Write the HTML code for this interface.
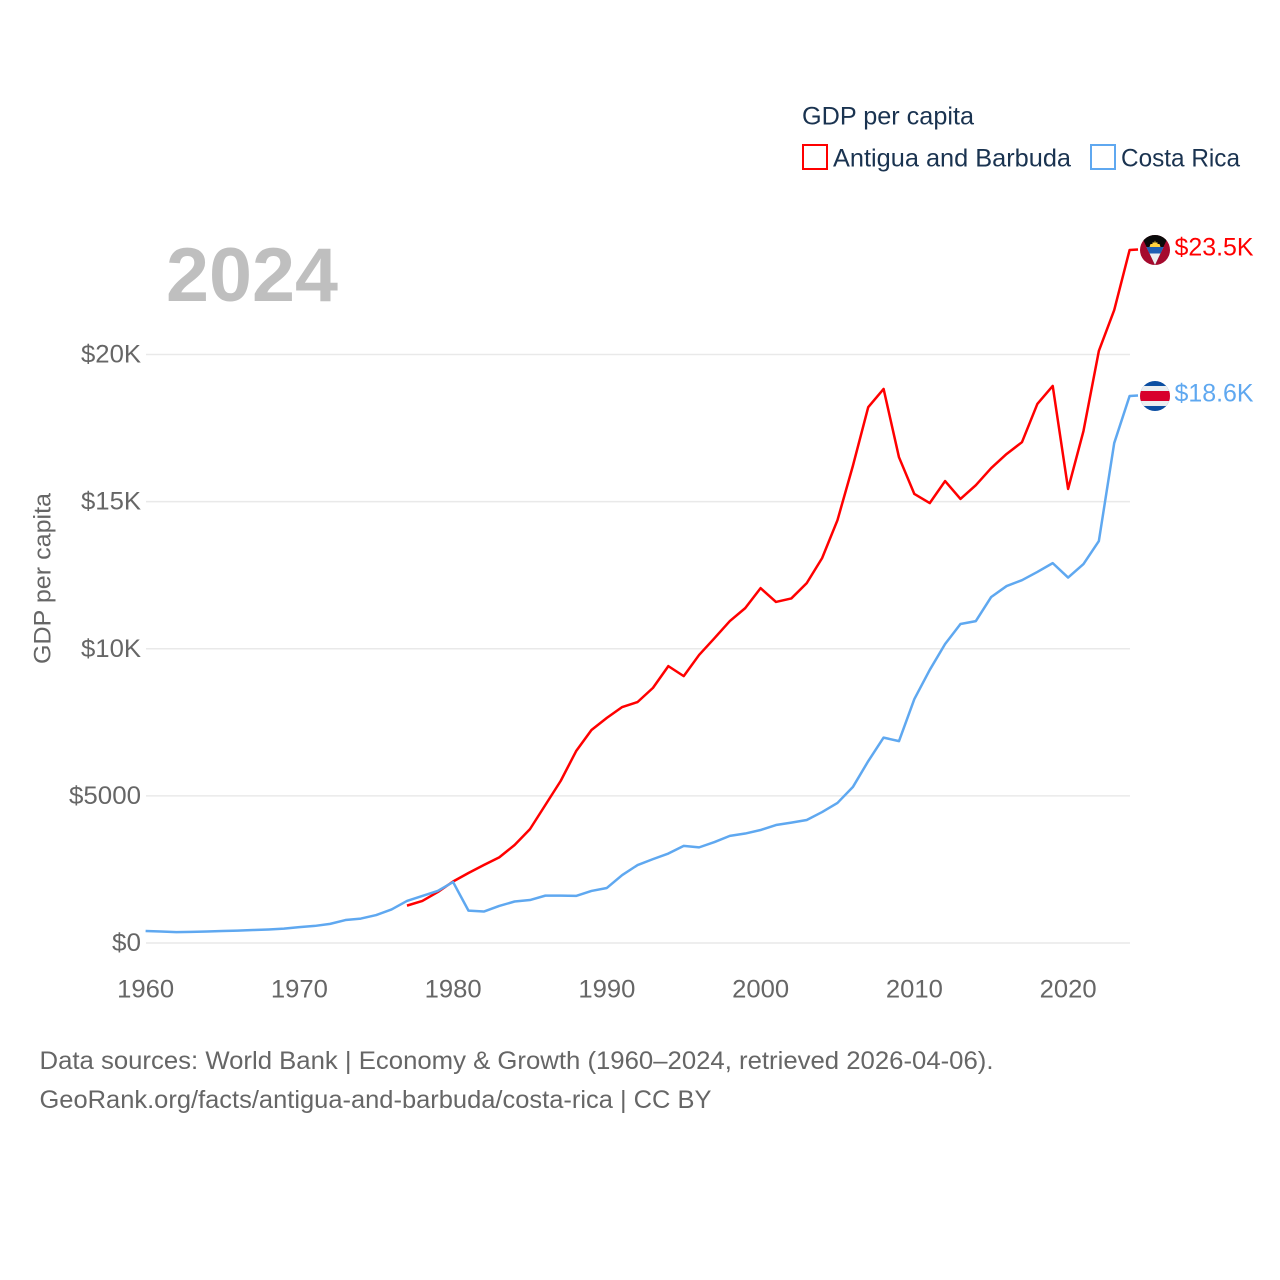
<!DOCTYPE html>
<html lang="en">
<head>
<meta charset="utf-8">
<title>GDP per capita: Antigua and Barbuda vs Costa Rica</title>
<style>
html,body{margin:0;padding:0;background:#fff;width:1280px;height:1280px;overflow:hidden}
svg{display:block}
text{font-family:"Liberation Sans",sans-serif}
</style>
</head>
<body>
<svg id="chart" xmlns="http://www.w3.org/2000/svg" width="1280" height="1280" viewBox="0 0 1280 1280">
  <defs>
    <clipPath id="flag-clip-ag"><circle cx="0" cy="0" r="15"/></clipPath>
    <clipPath id="flag-clip-cr"><circle cx="0" cy="0" r="15"/></clipPath>
  </defs>
  <rect width="1280" height="1280" fill="#fff"/>
  <g id="grid"></g>
  <g id="yticks"></g>
  <g id="xticks"></g>
  <text x="252" y="301" font-size="76" font-weight="700" fill="#bfbfbf" text-anchor="middle" textLength="172" lengthAdjust="spacingAndGlyphs">2024</text>
  <text transform="translate(50.5,578.5) rotate(-90)" font-size="24" fill="#666" text-anchor="middle" textLength="171" lengthAdjust="spacingAndGlyphs">GDP per capita</text>
  <g id="series"></g>
  <g id="end-labels"></g>

  <g>
    <text x="802" y="124.5" font-size="25" fill="#1a3350" textLength="172" lengthAdjust="spacingAndGlyphs">GDP per capita</text>
    <g>
      <rect x="803" y="145" width="24" height="24" fill="#fff" stroke="#ff0000" stroke-width="2"/>
      <text x="833" y="166.5" font-size="25" fill="#1a3350" textLength="238" lengthAdjust="spacingAndGlyphs">Antigua and Barbuda</text>
    </g>
    <g>
      <rect x="1091" y="145" width="24" height="24" fill="#fff" stroke="#5fa8f0" stroke-width="2"/>
      <text x="1121" y="166.5" font-size="25" fill="#1a3350" textLength="119" lengthAdjust="spacingAndGlyphs">Costa Rica</text>
    </g>
  </g>

  <text x="39.5" y="1069" font-size="25" fill="#666" textLength="954" lengthAdjust="spacingAndGlyphs">Data sources: World Bank | Economy &amp; Growth (1960–2024, retrieved 2026-04-06).</text>
  <text x="39.5" y="1108" font-size="25" fill="#666" textLength="672" lengthAdjust="spacingAndGlyphs">GeoRank.org/facts/antigua-and-barbuda/costa-rica | CC BY</text>
</svg>
<script>
const xTickYears = [1960, 1970, 1980, 1990, 2000, 2010, 2020];
const yTickValues = [0, 5, 10, 15, 20];
const yTickLabels = ["$0", "$5000", "$10K", "$15K", "$20K"];
const antiguaStartYear = 1977;
const antiguaValues = [1.27,1.43,1.73,2.09,2.38,2.65,2.91,3.33,3.87,4.69,5.51,6.52,7.24,7.65,8.02,8.19,8.67,9.41,9.07,9.79,10.36,10.94,11.38,12.06,11.59,11.71,12.23,13.08,14.37,16.21,18.21,18.83,16.51,15.26,14.95,15.70,15.09,15.56,16.14,16.62,17.02,18.32,18.93,15.43,17.40,20.12,21.51,23.55];
const costaRicaStartYear = 1960;
const costaRicaValues = [0.41,0.39,0.37,0.38,0.39,0.41,0.42,0.44,0.46,0.49,0.54,0.58,0.65,0.78,0.83,0.95,1.14,1.43,1.60,1.77,2.07,1.10,1.07,1.26,1.41,1.46,1.61,1.61,1.60,1.77,1.87,2.31,2.65,2.85,3.04,3.30,3.25,3.43,3.64,3.72,3.84,4.01,4.09,4.18,4.45,4.76,5.30,6.18,6.98,6.86,8.29,9.28,10.16,10.84,10.94,11.76,12.13,12.33,12.61,12.91,12.42,12.88,13.66,16.99,18.59];
const antiguaEndLabel = "$23.5K";
const costaRicaEndLabel = "$18.6K";

const NS = "http://www.w3.org/2000/svg";
const xScale = function (year) { return 145.6 + (year - 1960) * (1129.6 - 145.6) / 64; };
const yScale = function (value) { return 943 - value * 29.425; };
function make(tag, attrs, parent, content) {
  const el = document.createElementNS(NS, tag);
  Object.keys(attrs).forEach(function (k) { el.setAttribute(k, attrs[k]); });
  if (content !== undefined) { el.textContent = content; }
  parent.appendChild(el);
  return el;
}

const gridGroup = document.getElementById("grid");
const yGroup = document.getElementById("yticks");
const xGroup = document.getElementById("xticks");
const seriesGroup = document.getElementById("series");
const endGroup = document.getElementById("end-labels");

const yTickWidth = { "$0": 29, "$5000": 72, "$10K": 60, "$15K": 60, "$20K": 60 };
yTickValues.forEach(function (v, i) {
  const line = make("line", { x1: 146, x2: 1130, y1: yScale(v), y2: yScale(v), stroke: "#e9e9e9", "stroke-width": 1.5 }, gridGroup);
  
  
  const w = yTickWidth[yTickLabels[i]];
  const label = make("text", { x: 141 - w, y: yScale(v) + 8, "font-size": 25, fill: "#666", textLength: w, lengthAdjust: "spacingAndGlyphs" }, yGroup, yTickLabels[i]);
  
  
});

xTickYears.forEach(function (year) {
  const label = make("text", { x: xScale(year) - 28.5, y: 997.5, "font-size": 25, fill: "#666", textLength: 57, lengthAdjust: "spacingAndGlyphs" }, xGroup, String(year));
  
  
});

function linePoints(startYear, values) {
  const pts = values.map(function (v, i) { return xScale(startYear + i).toFixed(2) + "," + yScale(v).toFixed(2); });
  const last = values[values.length - 1];
  pts.push("1138," + (yScale(last) - 0.5).toFixed(2));
  return pts.join(" ");
}

const antiguaLine = make("polyline", { points: linePoints(antiguaStartYear, antiguaValues), fill: "none", stroke: "#ff0000", "stroke-width": 2.5, "stroke-linejoin": "round" }, seriesGroup);


const costaRicaLine = make("polyline", { points: linePoints(costaRicaStartYear, costaRicaValues), fill: "none", stroke: "#5fa8f0", "stroke-width": 2.5, "stroke-linejoin": "round" }, seriesGroup);



const antiguaY = yScale(antiguaValues[antiguaValues.length - 1]);
const costaRicaY = yScale(costaRicaValues[costaRicaValues.length - 1]);

const antiguaFlag = make("g", { transform: "translate(1155," + antiguaY + ")", "clip-path": "url(#flag-clip-ag)" }, endGroup);


make("rect", { x: -15, y: -15, width: 30, height: 30, fill: "#a50a2e" }, antiguaFlag);
make("polygon", { points: "-14,-15 14,-15 0,15", fill: "#0a0a0a" }, antiguaFlag);
make("polygon", { points: "-8.5,-3 8.5,-3 0,15", fill: "#eceff1" }, antiguaFlag);
make("polygon", { points: "-8.5,-3 8.5,-3 5.6,3.5 -5.6,3.5", fill: "#1e5fb4" }, antiguaFlag);
make("polygon", { points: "-5.5,-3 5.5,-3 4.5,-6 2.6,-6 2.2,-8 0.8,-7 0,-9.5 -0.8,-7 -2.2,-8 -2.6,-6 -4.5,-6", fill: "#ffd23f" }, antiguaFlag);

const costaRicaFlag = make("g", { transform: "translate(1155," + costaRicaY + ")", "clip-path": "url(#flag-clip-cr)" }, endGroup);


make("rect", { x: -15, y: -15, width: 30, height: 30, fill: "#0b4ea2" }, costaRicaFlag);
make("rect", { x: -15, y: -10, width: 30, height: 20, fill: "#eceff1" }, costaRicaFlag);
make("rect", { x: -15, y: -5, width: 30, height: 10, fill: "#d8002c" }, costaRicaFlag);

const antiguaEnd = make("text", { x: 1174.5, y: antiguaY + 5.5, "font-size": 25, fill: "#ff0000", textLength: 79, lengthAdjust: "spacingAndGlyphs" }, endGroup, antiguaEndLabel);


const costaRicaEnd = make("text", { x: 1174.5, y: costaRicaY + 5.5, "font-size": 25, fill: "#5fa8f0", textLength: 79, lengthAdjust: "spacingAndGlyphs" }, endGroup, costaRicaEndLabel);


</script>
</body>
</html>
